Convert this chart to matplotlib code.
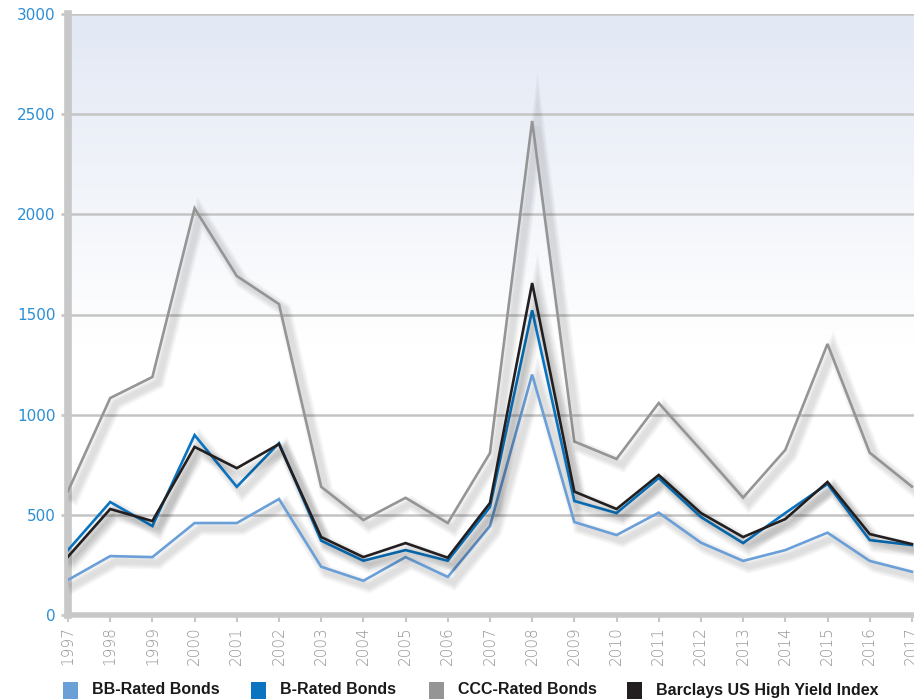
import numpy as np
import matplotlib.pyplot as plt
import matplotlib.patheffects as pe
from matplotlib.patches import Rectangle

# 数据
years = list(range(1997, 2018))
bb = [175, 294, 289, 459, 459, 579, 241, 171, 289, 190, 444, 1200,
      464, 399, 511, 361, 270, 324, 411, 270, 216]
b = [324, 564, 444, 898, 640, 858, 371, 271, 324, 271, 539, 1521,
     569, 509, 684, 489, 359, 509, 654, 374, 349]
ccc = [618, 1083, 1188, 2030, 1692, 1552, 640, 474, 585, 459, 808, 2466,
       866, 779, 1058, 824, 586, 824, 1353, 810, 641]
barclays = [291, 529, 469, 839, 733, 853, 389, 289, 359, 286, 559, 1657,
            616, 529, 699, 509, 389, 479, 664, 404, 354]
labels = ['BB-Rated Bonds', 'B-Rated Bonds', 'CCC-Rated Bonds',
          'Barclays US High Yield Index']
colors = ['#6a9fd8', '#0a74c0', '#959595', '#231f20']

W, H = 914, 699
fig = plt.figure(figsize=(W/100, H/100), dpi=100)
ax = fig.add_axes([68/W, 1-615/H, 846/W, 601/H])

# 背景渐变
grad = np.linspace(0, 1, 256).reshape(-1, 1)
top = np.array([0.886, 0.910, 0.957])
alpha = np.clip((grad - 0.45) / 0.55, 0, 1)
img = np.ones((256, 1, 3)) * (1 - alpha[..., None]) + top * alpha[..., None]
ax.imshow(img, extent=[1997, 2017.05, 0, 3000], origin='lower',
          aspect='auto', zorder=0)

ax.set_xlim(1997, 2017.05)
ax.set_ylim(0, 3000)
ax.set_yticks(range(0, 3001, 500))
ax.set_xticks(years)
ax.set_xticklabels([str(y) for y in years], rotation=90)
ax.grid(axis='y', color='#c4c4c4', lw=1.8, zorder=1)
ax.set_axisbelow(True)

for s in ['top', 'right']:
    ax.spines[s].set_visible(False)
for s in ['left', 'bottom']:
    ax.spines[s].set_color('#c8c8c8')
ax.spines['left'].set_linewidth(5.5)
ax.spines['bottom'].set_linewidth(4)

ax.tick_params(axis='y', colors='#c8c8c8', labelcolor='#2b8fd4',
               labelsize=11, length=5, width=2, pad=4)
ax.tick_params(axis='x', colors='#c8c8c8', labelcolor='#959595',
               labelsize=11, length=5, width=1.5, pad=3)
for t in ax.get_xticklabels():
    t.set_fontweight('light')

# 柔和阴影
shadow = [pe.SimpleLineShadow(offset=(4, -4), shadow_color='#000000',
                              alpha=0.03, linewidth=w)
          for w in (10, 8, 6, 4)]
shadow.append(pe.Normal())

order = [2, 0, 3, 1]
series = [bb, b, ccc, barclays]
for i in order:
    ax.plot(years, series[i], color=colors[i], lw=1.9, zorder=3 + i,
            path_effects=shadow, solid_joinstyle='miter')

# 图例
leg_x = [63, 251, 429, 627]
for x, c, lab in zip(leg_x, colors, labels):
    fig.add_artist(Rectangle((x/W, 0), 15/W, 17/H, facecolor=c,
                             edgecolor='none', transform=fig.transFigure))
    fig.text((x + 29)/W, 1-690/H, lab, ha='left', va='center',
             fontsize=11.5, fontweight='bold', color='#1a1a1a',
             family=['Liberation Sans', 'DejaVu Sans'])

fig.savefig('out.png', dpi=100)
